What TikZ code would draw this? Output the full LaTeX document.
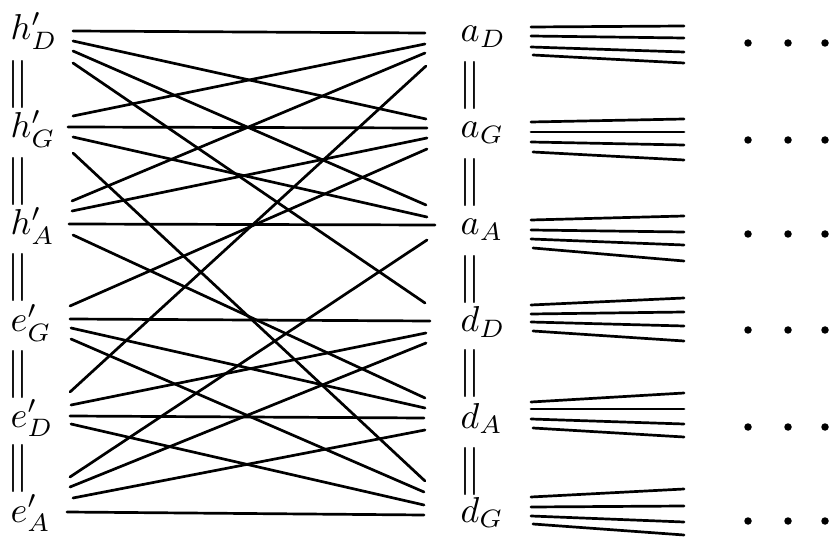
\documentclass[tikz,border=0pt]{standalone}
\begin{document}
\begin{tikzpicture}[x=1pt,y=-1pt,line cap=round,
  conn/.style={line width=2.7pt},
  fanline/.style={line width=2.7pt},
  lab/.style={anchor=base west,inner sep=0pt,scale=3.6},
  eqsign/.style={inner sep=0pt,xscale=4.6,yscale=4.8},
  dotn/.style={circle,fill,inner sep=0pt,minimum size=7.5pt}]
\useasboundingbox (0,0) rectangle (830,537);
% ---------- labels ----------
\node[lab] (hD) at (10,40)  {$h'_D$};
\node[lab] (hG) at (10,138) {$h'_G$};
\node[lab] (hA) at (10,235) {$h'_A$};
\node[lab] (eG) at (10,332) {$e'_G$};
\node[lab] (eD) at (10,427) {$e'_D$};
\node[lab] (eA) at (10,522) {$e'_A$};
\node[lab] (aD) at (460,42)  {$a_D$};
\node[lab] (aG) at (460,138) {$a_G$};
\node[lab] (aA) at (460,235) {$a_A$};
\node[lab] (dD) at (460,332) {$d_D$};
\node[lab] (dA) at (460,428) {$d_A$};
\node[lab] (dG) at (460,522) {$d_G$};
% ---------- equality bars ----------
\foreach \y [count=\i] in {85,182,278,374,468} {
  \node[eqsign] (lq\i) at (18,\y) {$\|$};
}
\foreach \y [count=\i] in {86,183,280,373,471} {
  \node[eqsign] (rq\i) at (470,\y) {$\|$};
}
% ---------- left endpoints ----------
\coordinate (hD1) at (73,31);  \coordinate (hD2) at (73,41);
\coordinate (hD3) at (73,51);  \coordinate (hD4) at (73,63);
\coordinate (hG1) at (73,116); \coordinate (hG2) at (68,127);
\coordinate (hG3) at (73,137); \coordinate (hG4) at (73,153);
\coordinate (hA1) at (72,201); \coordinate (hA2) at (72,211);
\coordinate (hA3) at (69,224); \coordinate (hA4) at (73,235);
\coordinate (eG1) at (70,306); \coordinate (eG2) at (70,319);
\coordinate (eG3) at (71,328); \coordinate (eG4) at (71,339);
\coordinate (eD1) at (70,392); \coordinate (eD2) at (71,405);
\coordinate (eD3) at (70,416); \coordinate (eD4) at (71,424);
\coordinate (eA1) at (70,477); \coordinate (eA2) at (70,487);
\coordinate (eA3) at (73,498); \coordinate (eA4) at (67,512);
% ---------- right endpoints ----------
\coordinate (aD1) at (425,33);  \coordinate (aD2) at (425,44);
\coordinate (aD3) at (425,53);  \coordinate (aD4) at (426,66);
\coordinate (aG1) at (426,119); \coordinate (aG2) at (427,128);
\coordinate (aG3) at (427,138); \coordinate (aG4) at (427,149);
\coordinate (aA1) at (426,205); \coordinate (aA2) at (427,217);
\coordinate (aA3) at (435,225); \coordinate (aA4) at (427,240);
\coordinate (dD1) at (425,303); \coordinate (dD2) at (430,321);
\coordinate (dD3) at (426,333); \coordinate (dD4) at (426,343);
\coordinate (dA1) at (425,398); \coordinate (dA2) at (425,408);
\coordinate (dA3) at (424,418); \coordinate (dA4) at (425,430);
\coordinate (dG1) at (425,481); \coordinate (dG2) at (424,492);
\coordinate (dG3) at (424,505); \coordinate (dG4) at (424,515);
% ---------- connectors ----------
\draw[conn] (hD1) -- (aD1); \draw[conn] (hD2) -- (aG1);
\draw[conn] (hD3) -- (aA1); \draw[conn] (hD4) -- (dD1);
\draw[conn] (hG1) -- (aD2); \draw[conn] (hG2) -- (aG2);
\draw[conn] (hG3) -- (aA2); \draw[conn] (hG4) -- (dG1);
\draw[conn] (hA1) -- (aD3); \draw[conn] (hA2) -- (aG3);
\draw[conn] (hA3) -- (aA3); \draw[conn] (hA4) -- (dA1);
\draw[conn] (eG1) -- (aG4); \draw[conn] (eG2) -- (dD2);
\draw[conn] (eG3) -- (dA2); \draw[conn] (eG4) -- (dG2);
\draw[conn] (eD1) -- (aD4); \draw[conn] (eD2) -- (dD3);
\draw[conn] (eD3) -- (dA3); \draw[conn] (eD4) -- (dG3);
\draw[conn] (eA1) -- (aA4); \draw[conn] (eA2) -- (dD4);
\draw[conn] (eA3) -- (dA4); \draw[conn] (eA4) -- (dG4);
% ---------- fans on the right ----------
\foreach \g/\la/\ra/\lb/\rb/\lc/\rc/\ld/\rd in {
  aD/27/26/36/38/47/52/55/63,
  aG/122/119/132/132/142/145/152/160,
  aA/220/216/230/232/239/245/248/261,
  dD/305/298/314/312/322/326/331/341,
  dA/402/393/409/409/419/424/428/437,
  dG/497/489/507/506/516/522/524/535} {
  \coordinate (\g fa0) at (531,\la); \coordinate (\g fa1) at (684,\ra);
  \coordinate (\g fb0) at (531,\lb); \coordinate (\g fb1) at (684,\rb);
  \coordinate (\g fc0) at (531,\lc); \coordinate (\g fc1) at (684,\rc);
  \coordinate (\g fd0) at (533,\ld); \coordinate (\g fd1) at (684,\rd);
  \draw[fanline] (\g fa0) -- (\g fa1);
  \draw[fanline] (\g fb0) -- (\g fb1);
  \draw[fanline] (\g fc0) -- (\g fc1);
  \draw[fanline] (\g fd0) -- (\g fd1);
}
% ---------- dots ----------
\foreach \g/\y in {aD/43,aG/140,aA/234,dD/330,dA/427,dG/521} {
  \node[dotn] (\g p1) at (748,\y) {};
  \node[dotn] (\g p2) at (788,\y) {};
  \node[dotn] (\g p3) at (825,\y) {};
}
\end{tikzpicture}
\end{document}
